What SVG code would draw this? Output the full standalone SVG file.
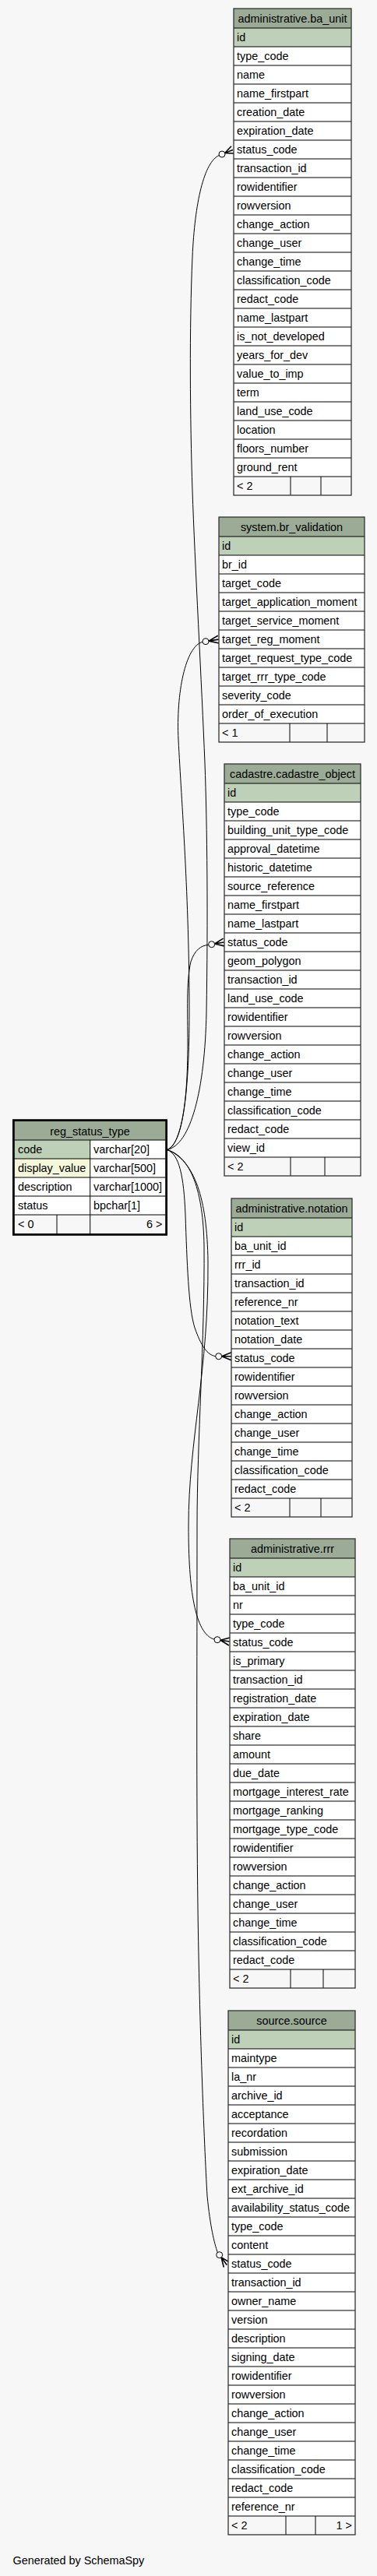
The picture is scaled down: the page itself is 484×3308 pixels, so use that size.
<svg xmlns="http://www.w3.org/2000/svg" width="484" height="3308" viewBox="0 0 484 3308">
<style>
text{font-family:"Liberation Sans",Arial,Helvetica,sans-serif;font-size:14.4px;fill:#000}
.h{text-anchor:middle}
.e{text-anchor:end}
.hd{fill:#9bab96}
.pk{fill:#bed1b8}
.ix{fill:#f4f7da}
.bd{fill:#ffffff}
.ft{fill:#f7f7f7}
.sep{fill:none;stroke:#000;stroke-width:1}
.ol{fill:none;stroke:#333;stroke-width:1.3}
.edge{fill:none;stroke:#000;stroke-width:1}
.dot{fill:none;stroke:#000;stroke-width:1}
.crow{fill:none;stroke:#000;stroke-width:1.6}
</style>
<rect width="484" height="3308" fill="#f7f7f7"/>

<g id="connectors">
<path class="edge" d="M214.5,1476.5 C245,1470 263,1400 265,1300 C267,1180 266,1060 263,980 C259,880 250,720 247,630 C244,540 243,420 247,330 C250,260 262,208 281.3,199.5"/>
<circle class="dot" cx="285" cy="198" r="4"/>
<path class="crow" d="M288.7,196.5L298.9,192.4M288.7,196.5L300.8,197M288.7,196.5L297,187.8"/>

<path class="edge" d="M214.5,1476.5 C235,1470 243,1400 243,1300 C243,1150 233,1030 229,950 C226,890 238,830 260,824.3"/>
<circle class="dot" cx="264" cy="823.7" r="4"/>
<path class="crow" d="M268,823.1L280.6,821.1M268,823.1L281.4,826M268,823.1L279.8,816.2"/>

<path class="edge" d="M214.5,1476.5 C232,1470 241,1420 241,1340 C241,1300 239,1260 245,1235 C250,1220 258,1214 267.8,1213.4"/>
<circle class="dot" cx="271.7" cy="1212.7" r="4"/>
<path class="crow" d="M275.6,1212L287.4,1210M275.6,1212L288.2,1214.9M275.6,1212L286.6,1205.1"/>

<path class="edge" d="M214.5,1476.5 C230,1482 236,1510 238,1560 C240,1620 242,1680 250,1705 C258,1728 266,1740 276.7,1741.7"/>
<circle class="dot" cx="280.7" cy="1741.7" r="4"/>
<path class="crow" d="M284.7,1741.7L297,1741.7M284.7,1741.7L297,1746.7M284.7,1741.7L297,1736.7"/>

<path class="edge" d="M214.5,1476.5 C250,1490 266,1540 267,1620 C268,1760 242,1850 242,1960 C242,2040 250,2098 275,2105.1"/>
<circle class="dot" cx="279" cy="2105.7" r="4"/>
<path class="crow" d="M283,2106.3L294.6,2108M283,2106.3L293.9,2113M283,2106.3L295.3,2103"/>

<path class="edge" d="M214.5,1476.5 C245,1485 261,1530 262,1600 C263,1720 253,1850 253,1960 C253,2150 252,2300 254,2450 C256,2600 262,2750 266,2820 C270,2860 275,2880 279.3,2892.5"/>
<circle class="dot" cx="281.7" cy="2895.7" r="4"/>
<path class="crow" d="M284.1,2898.9L291.3,2908.5M284.1,2898.9L287.3,2911.5M284.1,2898.9L295.3,2905.5"/>
</g>

<g id="administrative.ba_unit">
<rect class="hd" x="300" y="11" width="151" height="25"/>
<rect class="pk" x="300" y="36" width="151" height="24"/>
<rect class="bd" x="300" y="60" width="151" height="552"/>
<rect class="ft" x="300" y="612" width="151" height="24"/>
<path class="sep" d="M300 36h151m-151 24h151m-151 24h151m-151 24h151m-151 24h151m-151 24h151m-151 24h151m-151 24h151m-151 24h151m-151 24h151m-151 24h151m-151 24h151m-151 24h151m-151 24h151m-151 24h151m-151 24h151m-151 24h151m-151 24h151m-151 24h151m-151 24h151m-151 24h151m-151 24h151m-151 24h151m-151 24h151m-151 24h151M373 612v24M412 612v24"/>
<rect class="ol" x="300" y="11" width="151" height="625"/>
<text class="h" x="375.5" y="28.5">administrative.ba_unit</text>
<text x="304" y="52.5">id</text>
<text x="304" y="76.5">type_code</text>
<text x="304" y="100.5">name</text>
<text x="304" y="124.5">name_firstpart</text>
<text x="304" y="148.5">creation_date</text>
<text x="304" y="172.5">expiration_date</text>
<text x="304" y="196.5">status_code</text>
<text x="304" y="220.5">transaction_id</text>
<text x="304" y="244.5">rowidentifier</text>
<text x="304" y="268.5">rowversion</text>
<text x="304" y="292.5">change_action</text>
<text x="304" y="316.5">change_user</text>
<text x="304" y="340.5">change_time</text>
<text x="304" y="364.5">classification_code</text>
<text x="304" y="388.5">redact_code</text>
<text x="304" y="412.5">name_lastpart</text>
<text x="304" y="436.5">is_not_developed</text>
<text x="304" y="460.5">years_for_dev</text>
<text x="304" y="484.5">value_to_imp</text>
<text x="304" y="508.5">term</text>
<text x="304" y="532.5">land_use_code</text>
<text x="304" y="556.5">location</text>
<text x="304" y="580.5">floors_number</text>
<text x="304" y="604.5">ground_rent</text>
<text x="304" y="628.5">&lt; 2</text>
</g>

<g id="system.br_validation">
<rect class="hd" x="281" y="664" width="187" height="25"/>
<rect class="pk" x="281" y="689" width="187" height="24"/>
<rect class="bd" x="281" y="713" width="187" height="216"/>
<rect class="ft" x="281" y="929" width="187" height="24"/>
<path class="sep" d="M281 689h187m-187 24h187m-187 24h187m-187 24h187m-187 24h187m-187 24h187m-187 24h187m-187 24h187m-187 24h187m-187 24h187m-187 24h187M372 929v24M420 929v24"/>
<rect class="ol" x="281" y="664" width="187" height="289"/>
<text class="h" x="374.5" y="681.5">system.br_validation</text>
<text x="285" y="705.5">id</text>
<text x="285" y="729.5">br_id</text>
<text x="285" y="753.5">target_code</text>
<text x="285" y="777.5">target_application_moment</text>
<text x="285" y="801.5">target_service_moment</text>
<text x="285" y="825.5">target_reg_moment</text>
<text x="285" y="849.5">target_request_type_code</text>
<text x="285" y="873.5">target_rrr_type_code</text>
<text x="285" y="897.5">severity_code</text>
<text x="285" y="921.5">order_of_execution</text>
<text x="285" y="945.5">&lt; 1</text>
</g>

<g id="cadastre.cadastre_object">
<rect class="hd" x="288" y="981" width="175" height="25"/>
<rect class="pk" x="288" y="1006" width="175" height="24"/>
<rect class="bd" x="288" y="1030" width="175" height="456"/>
<rect class="ft" x="288" y="1486" width="175" height="24"/>
<path class="sep" d="M288 1006h175m-175 24h175m-175 24h175m-175 24h175m-175 24h175m-175 24h175m-175 24h175m-175 24h175m-175 24h175m-175 24h175m-175 24h175m-175 24h175m-175 24h175m-175 24h175m-175 24h175m-175 24h175m-175 24h175m-175 24h175m-175 24h175m-175 24h175m-175 24h175M373 1486v24M417 1486v24"/>
<rect class="ol" x="288" y="981" width="175" height="529"/>
<text class="h" x="375.5" y="998.5">cadastre.cadastre_object</text>
<text x="292" y="1022.5">id</text>
<text x="292" y="1046.5">type_code</text>
<text x="292" y="1070.5">building_unit_type_code</text>
<text x="292" y="1094.5">approval_datetime</text>
<text x="292" y="1118.5">historic_datetime</text>
<text x="292" y="1142.5">source_reference</text>
<text x="292" y="1166.5">name_firstpart</text>
<text x="292" y="1190.5">name_lastpart</text>
<text x="292" y="1214.5">status_code</text>
<text x="292" y="1238.5">geom_polygon</text>
<text x="292" y="1262.5">transaction_id</text>
<text x="292" y="1286.5">land_use_code</text>
<text x="292" y="1310.5">rowidentifier</text>
<text x="292" y="1334.5">rowversion</text>
<text x="292" y="1358.5">change_action</text>
<text x="292" y="1382.5">change_user</text>
<text x="292" y="1406.5">change_time</text>
<text x="292" y="1430.5">classification_code</text>
<text x="292" y="1454.5">redact_code</text>
<text x="292" y="1478.5">view_id</text>
<text x="292" y="1502.5">&lt; 2</text>
</g>

<g id="reg_status_type">
<rect class="hd" x="18.5" y="1440" width="194" height="24"/>
<rect class="pk" x="18.5" y="1464" width="97.2" height="24"/>
<rect class="bd" x="115.7" y="1464" width="96.8" height="24"/>
<rect class="ix" x="18.5" y="1488" width="97.2" height="24"/>
<rect class="bd" x="115.7" y="1488" width="96.8" height="24"/>
<rect class="bd" x="18.5" y="1512" width="194" height="48"/>
<rect class="ft" x="18.5" y="1560" width="194" height="24"/>
<path class="sep" d="M18.5 1464h194m-194 24h194m-194 24h194m-194 24h194m-194 24h194M115.7 1464v120M73 1560v24"/>
<rect x="17.4" y="1438.6" width="196.2" height="146.8" fill="none" stroke="#000" stroke-width="2.8"/>
<text class="h" x="115.5" y="1457.5">reg_status_type</text>
<text x="23" y="1480.5">code</text>
<text x="120" y="1480.5">varchar[20]</text>
<text x="23" y="1504.5">display_value</text>
<text x="120" y="1504.5">varchar[500]</text>
<text x="23" y="1528.5">description</text>
<text x="120" y="1528.5">varchar[1000]</text>
<text x="23" y="1552.5">status</text>
<text x="120" y="1552.5">bpchar[1]</text>
<text x="23" y="1576.5">&lt; 0</text>
<text class="e" x="208.5" y="1576.5">6 &gt;</text>
</g>

<g id="administrative.notation">
<rect class="hd" x="297" y="1539" width="155" height="25"/>
<rect class="pk" x="297" y="1564" width="155" height="24"/>
<rect class="bd" x="297" y="1588" width="155" height="336"/>
<rect class="ft" x="297" y="1924" width="155" height="24"/>
<path class="sep" d="M297 1564h155m-155 24h155m-155 24h155m-155 24h155m-155 24h155m-155 24h155m-155 24h155m-155 24h155m-155 24h155m-155 24h155m-155 24h155m-155 24h155m-155 24h155m-155 24h155m-155 24h155m-155 24h155M372 1924v24M412 1924v24"/>
<rect class="ol" x="297" y="1539" width="155" height="409"/>
<text class="h" x="374.5" y="1556.5">administrative.notation</text>
<text x="301" y="1580.5">id</text>
<text x="301" y="1604.5">ba_unit_id</text>
<text x="301" y="1628.5">rrr_id</text>
<text x="301" y="1652.5">transaction_id</text>
<text x="301" y="1676.5">reference_nr</text>
<text x="301" y="1700.5">notation_text</text>
<text x="301" y="1724.5">notation_date</text>
<text x="301" y="1748.5">status_code</text>
<text x="301" y="1772.5">rowidentifier</text>
<text x="301" y="1796.5">rowversion</text>
<text x="301" y="1820.5">change_action</text>
<text x="301" y="1844.5">change_user</text>
<text x="301" y="1868.5">change_time</text>
<text x="301" y="1892.5">classification_code</text>
<text x="301" y="1916.5">redact_code</text>
<text x="301" y="1940.5">&lt; 2</text>
</g>

<g id="administrative.rrr">
<rect class="hd" x="295" y="1976" width="161" height="25"/>
<rect class="pk" x="295" y="2001" width="161" height="24"/>
<rect class="bd" x="295" y="2025" width="161" height="504"/>
<rect class="ft" x="295" y="2529" width="161" height="24"/>
<path class="sep" d="M295 2001h161m-161 24h161m-161 24h161m-161 24h161m-161 24h161m-161 24h161m-161 24h161m-161 24h161m-161 24h161m-161 24h161m-161 24h161m-161 24h161m-161 24h161m-161 24h161m-161 24h161m-161 24h161m-161 24h161m-161 24h161m-161 24h161m-161 24h161m-161 24h161m-161 24h161m-161 24h161M373 2529v24M415 2529v24"/>
<rect class="ol" x="295" y="1976" width="161" height="577"/>
<text class="h" x="375.5" y="1993.5">administrative.rrr</text>
<text x="299" y="2017.5">id</text>
<text x="299" y="2041.5">ba_unit_id</text>
<text x="299" y="2065.5">nr</text>
<text x="299" y="2089.5">type_code</text>
<text x="299" y="2113.5">status_code</text>
<text x="299" y="2137.5">is_primary</text>
<text x="299" y="2161.5">transaction_id</text>
<text x="299" y="2185.5">registration_date</text>
<text x="299" y="2209.5">expiration_date</text>
<text x="299" y="2233.5">share</text>
<text x="299" y="2257.5">amount</text>
<text x="299" y="2281.5">due_date</text>
<text x="299" y="2305.5">mortgage_interest_rate</text>
<text x="299" y="2329.5">mortgage_ranking</text>
<text x="299" y="2353.5">mortgage_type_code</text>
<text x="299" y="2377.5">rowidentifier</text>
<text x="299" y="2401.5">rowversion</text>
<text x="299" y="2425.5">change_action</text>
<text x="299" y="2449.5">change_user</text>
<text x="299" y="2473.5">change_time</text>
<text x="299" y="2497.5">classification_code</text>
<text x="299" y="2521.5">redact_code</text>
<text x="299" y="2545.5">&lt; 2</text>
</g>

<g id="source.source">
<rect class="hd" x="293" y="2582" width="163" height="25"/>
<rect class="pk" x="293" y="2607" width="163" height="24"/>
<rect class="bd" x="293" y="2631" width="163" height="600"/>
<rect class="ft" x="293" y="3231" width="163" height="24"/>
<path class="sep" d="M293 2607h163m-163 24h163m-163 24h163m-163 24h163m-163 24h163m-163 24h163m-163 24h163m-163 24h163m-163 24h163m-163 24h163m-163 24h163m-163 24h163m-163 24h163m-163 24h163m-163 24h163m-163 24h163m-163 24h163m-163 24h163m-163 24h163m-163 24h163m-163 24h163m-163 24h163m-163 24h163m-163 24h163m-163 24h163m-163 24h163m-163 24h163M367 3231v24M405 3231v24"/>
<rect class="ol" x="293" y="2582" width="163" height="673"/>
<text class="h" x="374.5" y="2599.5">source.source</text>
<text x="297" y="2623.5">id</text>
<text x="297" y="2647.5">maintype</text>
<text x="297" y="2671.5">la_nr</text>
<text x="297" y="2695.5">archive_id</text>
<text x="297" y="2719.5">acceptance</text>
<text x="297" y="2743.5">recordation</text>
<text x="297" y="2767.5">submission</text>
<text x="297" y="2791.5">expiration_date</text>
<text x="297" y="2815.5">ext_archive_id</text>
<text x="297" y="2839.5">availability_status_code</text>
<text x="297" y="2863.5">type_code</text>
<text x="297" y="2887.5">content</text>
<text x="297" y="2911.5">status_code</text>
<text x="297" y="2935.5">transaction_id</text>
<text x="297" y="2959.5">owner_name</text>
<text x="297" y="2983.5">version</text>
<text x="297" y="3007.5">description</text>
<text x="297" y="3031.5">signing_date</text>
<text x="297" y="3055.5">rowidentifier</text>
<text x="297" y="3079.5">rowversion</text>
<text x="297" y="3103.5">change_action</text>
<text x="297" y="3127.5">change_user</text>
<text x="297" y="3151.5">change_time</text>
<text x="297" y="3175.5">classification_code</text>
<text x="297" y="3199.5">redact_code</text>
<text x="297" y="3223.5">reference_nr</text>
<text x="297" y="3247.5">&lt; 2</text>
<text class="e" x="452" y="3247.5">1 &gt;</text>
</g>

<text x="16.5" y="3293">Generated by SchemaSpy</text>
</svg>
